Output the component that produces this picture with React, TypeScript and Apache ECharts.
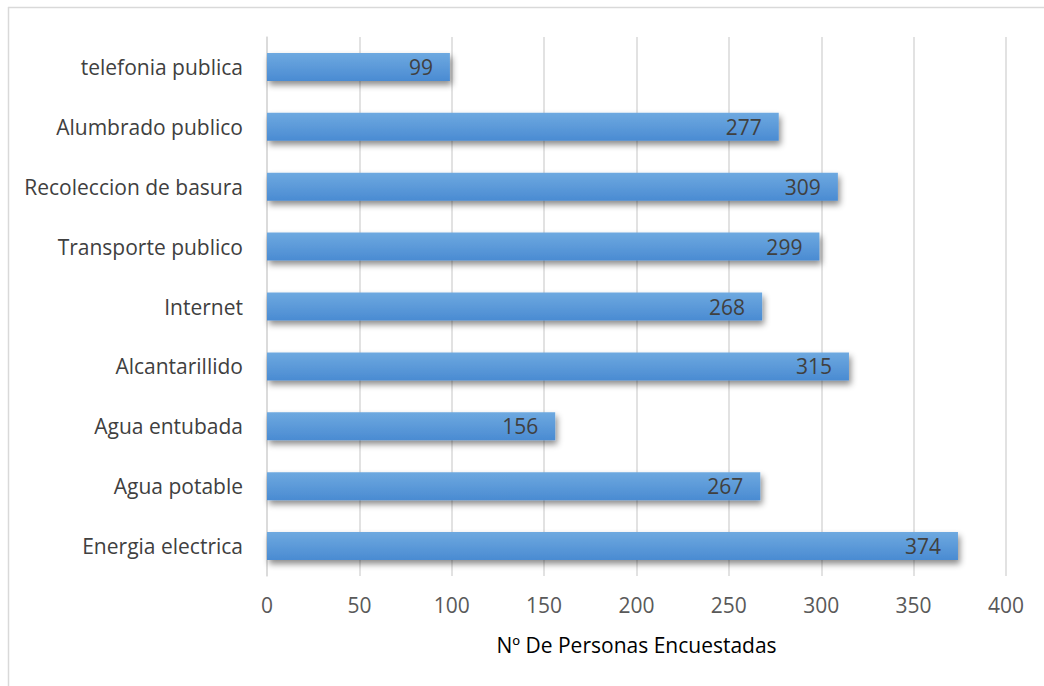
import React, { useEffect, useRef } from "react";
import * as echarts from "echarts";

const categories = [
  "Energia electrica",
  "Agua potable",
  "Agua entubada",
  "Alcantarillido",
  "Internet",
  "Transporte publico",
  "Recoleccion de basura",
  "Alumbrado publico",
  "telefonia publica",
];
const values = [374, 267, 156, 315, 268, 299, 309, 277, 99];
const axisName = "Nº De Personas Encuestadas";

export default function App() {
  const ref = useRef<HTMLDivElement>(null);
  useEffect(() => {
    if (!ref.current) return;
    const chart = echarts.init(ref.current, null, { renderer: "svg" });
    const font = "'Open Sans', sans-serif";
    chart.setOption({
      animation: false,
      backgroundColor: "#ffffff",
      textStyle: { fontFamily: font },
      graphic: [
        { type: "line", shape: { x1: 8, y1: 7.5, x2: 1044, y2: 7.5 }, style: { stroke: "#d9d9d9", lineWidth: 1.5 } },
        { type: "line", shape: { x1: 8.5, y1: 7, x2: 8.5, y2: 686 }, style: { stroke: "#d9d9d9", lineWidth: 1.5 } },
      ],
      grid: { left: 267, right: 38, top: 37, bottom: 110 },
      xAxis: {
        type: "value",
        min: 0,
        max: 400,
        interval: 50,
        name: axisName,
        nameLocation: "middle",
        nameGap: 58,
        nameTextStyle: { color: "#000000", fontSize: 21, fontFamily: font },
        axisLine: { show: false },
        axisTick: { show: false },
        axisLabel: { color: "#595959", fontSize: 21, margin: 18, fontFamily: font },
        splitLine: { show: true, lineStyle: { color: "#d9d9d9", width: 1.5 } },
      },
      yAxis: {
        type: "category",
        data: categories,
        axisLine: { show: true, lineStyle: { color: "#d9d9d9", width: 1.5 } },
        axisTick: { show: false },
        axisLabel: { color: "#404040", fontSize: 21, margin: 24, fontFamily: font },
      },
      series: [
        {
          type: "bar",
          data: values,
          barWidth: 28,
          itemStyle: {
            color: new echarts.graphic.LinearGradient(0, 0, 0, 1, [
              { offset: 0, color: "#6ea9e0" },
              { offset: 1, color: "#4a8bd2" },
            ]),
            shadowColor: "rgba(0,0,0,0.45)",
            shadowBlur: 6,
            shadowOffsetX: 2,
            shadowOffsetY: 4,
          },
          label: {
            show: true,
            position: "insideRight",
            distance: 17,
            color: "#404040",
            fontSize: 21,
            fontFamily: font,
          },
        },
      ],
    });
    return () => chart.dispose();
  }, []);
  return (
    <div
      ref={ref}
      style={{ position: "fixed", left: 0, top: 0, width: 1044, height: 686 }}
    />
  );
}
